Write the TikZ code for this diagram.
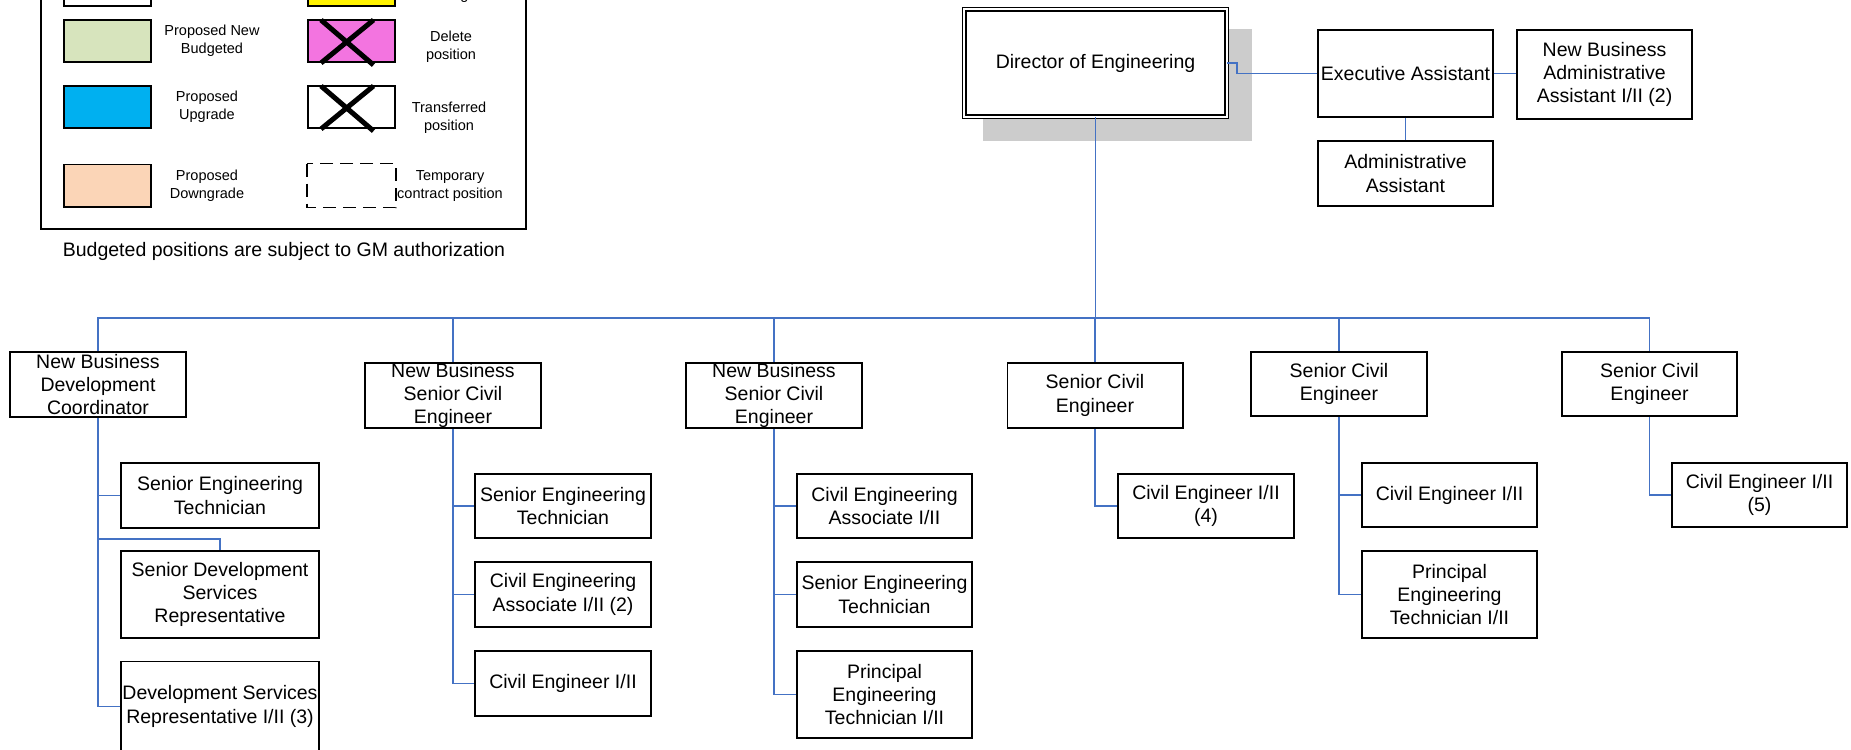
\documentclass[tikz,border=0pt]{standalone}
\usepackage{fontspec}
\setmainfont{Liberation Sans}
\definecolor{lineblue}{HTML}{4472C4}
\definecolor{propgreen}{HTML}{D7E4BD}
\definecolor{propblue}{HTML}{00B0F0}
\definecolor{proppeach}{HTML}{FBD5B7}
\definecolor{proppink}{HTML}{F374E0}
\definecolor{shadowgray}{HTML}{CCCCCC}
\begin{document}
\begin{tikzpicture}[x=1pt,y=-1pt,
  box/.style={draw=black, line width=1.7pt, fill=white, inner sep=0pt, align=center,
    font=\fontsize{19.5}{23.3}\selectfont},
  conn/.style={draw=lineblue, line width=1.9pt},
  legbox/.style={draw=black, line width=1.7pt, minimum width=87.3pt, minimum height=42.3pt, inner sep=0pt},
  legtext/.style={align=center, inner sep=0pt, font=\fontsize{14.5}{17.5}\selectfont},
  xmark/.style={line width=5pt, draw=black}]
\useasboundingbox (0,0) rectangle (1851,749);
\clip (0,0) rectangle (1851,749);

% ---------------- legend ----------------
\draw[line width=1.7pt] (41,-60) rectangle (526,229);
\node[legbox, fill=white] (l0a) at (107.5,-15) {};
\node[legbox, fill=yellow] (l0b) at (351.5,-15) {};
\node[legtext, anchor=south] (t0b) at (451,3) {Proposed Title\\Change};

\node[legbox, fill=propgreen] (l1a) at (107.5,41) {};
\node[legtext] (t1a) at (212,41) {Proposed New\\Budgeted};
\node[legbox, fill=proppink] (l1b) at (351.5,41) {};
\node[legtext] (t1b) at (451,47) {Delete\\position};
\draw[xmark] (321,20) -- (373.5,65);
\draw[xmark] (373.5,20) -- (321,63);

\node[legbox, fill=propblue] (l2a) at (107.5,107) {};
\node[legtext] (t2a) at (207,107) {Proposed\\Upgrade};
\node[legbox, fill=white] (l2b) at (351.5,107) {};
\node[legtext] (t2b) at (449,118) {Transferred\\position};
\draw[xmark] (321,86) -- (373.5,131);
\draw[xmark] (373.5,86) -- (321,129);

\node[legbox, fill=proppeach] (l3a) at (107.5,185.5) {};
\node[legtext] (t3a) at (207,186) {Proposed\\Downgrade};
\node[legbox, draw=none] (l3b) at (351.5,185.5) {};
\draw[line width=1.7pt, dash pattern=on 13pt off 7pt] (l3b.north west) rectangle (l3b.south east);
\node[legtext] (t3b) at (450,186) {Temporary\\contract position};

\node[font=\fontsize{19.5}{23.3}\selectfont, inner sep=0pt] (note) at (284,251) {Budgeted positions are subject to GM authorization};

% ---------------- top ----------------
\fill[shadowgray] (983,29) rectangle (1252,141);
\node[box, double=white, double distance=2pt, line width=1.3pt, minimum width=262.4pt, minimum height=107.4pt] (dir) at (1095.5,63) {Director of Engineering};
\node[box, minimum width=175.3pt, minimum height=87.3pt] (exec) at (1405.5,73.5) {Executive Assistant};
\node[box, minimum width=175.3pt, minimum height=89.3pt] (nbaa) at (1604.5,74.5) {New Business\\Administrative\\Assistant I/II (2)};
\node[box, minimum width=175.3pt, minimum height=65.3pt] (admin) at (1405.5,173.5) {Administrative\\Assistant};

\draw[conn] (dir.east) -- ++(10,0) |- (exec.west);
\draw[conn] (exec.east) -- (exec.east -| nbaa.west);
\draw[conn] (exec.south) -- (admin.north);

% ---------------- second level ----------------
\node[box, minimum width=176.3pt, minimum height=65.3pt] (nbdc) at (98,384.5) {New Business\\Development\\Coordinator};
\node[box, minimum width=176.3pt, minimum height=65.3pt] (nbsce1) at (453,395.5) {New Business\\Senior Civil\\Engineer};
\node[box, minimum width=176.3pt, minimum height=65.3pt] (nbsce2) at (774,395.5) {New Business\\Senior Civil\\Engineer};
\node[box, minimum width=175.3pt, minimum height=65.3pt] (sce1) at (1095,395.5) {Senior Civil\\Engineer};
\node[box, minimum width=176.3pt, minimum height=64.3pt] (sce2) at (1339,384) {Senior Civil\\Engineer};
\node[box, minimum width=175.3pt, minimum height=64.3pt] (sce3) at (1649.5,384) {Senior Civil\\Engineer};

\coordinate (busy) at (0,318);
\draw[conn] (dir.south) -- (dir.south |- busy);
\draw[conn] (nbdc.north) -- (nbdc.north |- busy) -- (sce3.north |- busy) -- (sce3.north);
\foreach \n in {nbsce1,nbsce2,sce1,sce2} \draw[conn] (\n.north) -- (\n.north |- busy);

% ---------------- third level ----------------
\node[box, minimum width=198.3pt, minimum height=65.3pt] (a1) at (220,495.5) {Senior Engineering\\Technician};
\node[box, minimum width=198.3pt, minimum height=87.3pt] (a2) at (220,594.5) {Senior Development\\Services\\Representative};
\node[box, minimum width=198.3pt, minimum height=90pt] (a3) at (220,706.5) {Development Services\\Representative I/II (3)};

\node[box, minimum width=176.3pt, minimum height=64.3pt] (b1) at (563,506) {Senior Engineering\\Technician};
\node[box, minimum width=176.3pt, minimum height=65.3pt] (b2) at (563,594.5) {Civil Engineering\\Associate I/II (2)};
\node[box, minimum width=176.3pt, minimum height=65.3pt] (b3) at (563,683.5) {Civil Engineer I/II};

\node[box, minimum width=175.3pt, minimum height=64.3pt] (c1) at (884.5,506) {Civil Engineering\\Associate I/II};
\node[box, minimum width=175.3pt, minimum height=65.3pt] (c2) at (884.5,594.5) {Senior Engineering\\Technician};
\node[box, minimum width=175.3pt, minimum height=87.3pt] (c3) at (884.5,694.5) {Principal\\Engineering\\Technician I/II};

\node[box, minimum width=176.3pt, minimum height=64.3pt] (d1) at (1206,506) {Civil Engineer I/II\\(4)};

\node[box, minimum width=175.3pt, minimum height=64.3pt] (e1) at (1449.5,495) {Civil Engineer I/II};
\node[box, minimum width=175.3pt, minimum height=87.3pt] (e2) at (1449.5,594.5) {Principal\\Engineering\\Technician I/II};

\node[box, minimum width=175.3pt, minimum height=64.3pt] (f1) at (1759.5,495) {Civil Engineer I/II\\(5)};

\coordinate (a2bend) at (98,539);
\draw[conn] (nbdc.south) |- (a1.west);
\draw[conn] (nbdc.south) |- (a3.west);
\draw[conn] (a2bend) -| (a2.north);

\foreach \c in {b1,b2,b3} \draw[conn] (nbsce1.south) |- (\c.west);
\foreach \c in {c1,c2,c3} \draw[conn] (nbsce2.south) |- (\c.west);
\draw[conn] (sce1.south) |- (d1.west);
\foreach \c in {e1,e2} \draw[conn] (sce2.south) |- (\c.west);
\draw[conn] (sce3.south) |- (f1.west);
\end{tikzpicture}
\end{document}
